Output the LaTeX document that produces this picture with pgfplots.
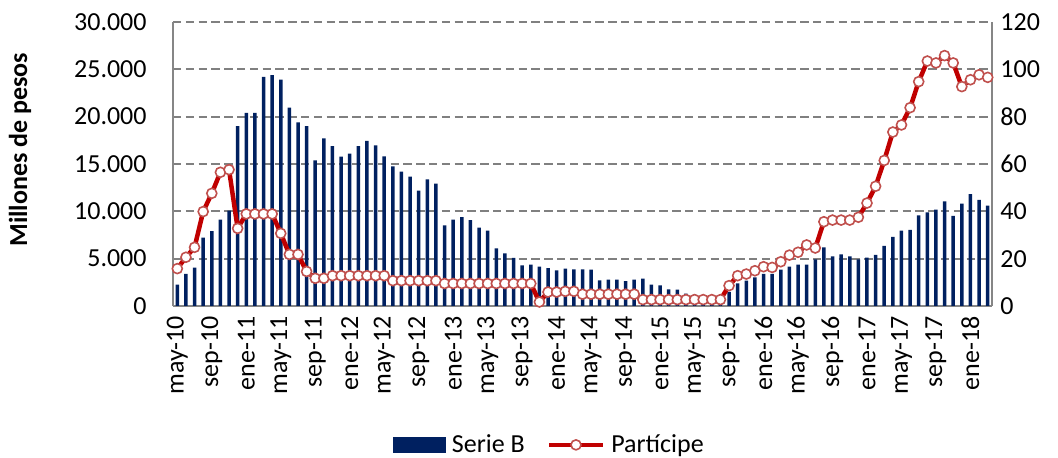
\documentclass[border=0pt]{standalone}
\usepackage{fontspec}
\setmainfont{Carlito}
\usepackage{pgfplots}
\usepackage{pgfplotstable}
\pgfplotsset{compat=1.18}
\definecolor{navy}{RGB}{0,32,96}
\definecolor{lred}{RGB}{192,0,0}
\definecolor{mred}{RGB}{192,80,77}
\definecolor{axgray}{RGB}{134,134,134}
\definecolor{gridgray}{RGB}{128,128,128}

\pgfplotstableread{
x b p
0 2250 15.8
1 3380 20.6
2 4050 24.8
3 7220 39.9
4 7920 47.6
5 9120 56.5
6 10070 57.6
7 19010 32.8
8 20390 38.9
9 20390 38.9
10 24190 38.9
11 24400 38.9
12 23910 30.7
13 20950 21.8
14 19400 21.8
15 19010 14.6
16 15390 11.7
17 17710 11.7
18 16900 12.8
19 15770 12.8
20 16090 12.8
21 16900 12.8
22 17430 12.8
23 16970 12.8
24 15810 12.8
25 14750 10.7
26 14190 10.7
27 13660 10.7
28 12180 10.7
29 13380 10.7
30 12920 10.7
31 8520 9.5
32 9120 9.5
33 9400 9.5
34 9080 9.5
35 8270 9.5
36 7960 9.5
37 6090 9.5
38 5560 9.5
39 5070 9.5
40 4300 9.5
41 4370 9.5
42 4150 1.7
43 4010 5.9
44 3770 5.9
45 3940 6.2
46 3870 6.2
47 3870 5.0
48 3840 5.0
49 2710 5.0
50 2780 5.0
51 2780 5.0
52 2640 5.0
53 2780 5.0
54 2890 2.7
55 2250 2.7
56 2180 2.7
57 1760 2.7
58 1730 2.7
59 1300 2.7
60 1200 2.7
61 1100 2.7
62 1000 2.7
63 1100 2.7
64 1500 8.6
65 2390 12.8
66 2680 13.5
67 3030 14.9
68 3380 16.6
69 3380 16.3
70 3840 18.7
71 4150 21.5
72 4370 22.7
73 4370 25.8
74 4930 24.5
75 6200 35.6
76 5250 36.3
77 5460 36.3
78 5250 36.3
79 4930 37.5
80 5110 43.5
81 5390 50.6
82 6340 61.5
83 7290 73.5
84 7960 76.5
85 8030 83.8
86 9580 94.8
87 9890 103.5
88 10180 102.7
89 11060 105.8
90 9510 102.7
91 10810 92.7
92 11830 95.6
93 11200 97.7
94 10600 96.6
}\datatable

\pgfplotsset{
  common/.style={
    at={(0,0)}, anchor=south west,
    scale only axis, width=409.5pt, height=142pt,
    xmin=-0.5, xmax=94.5, ymin=0,
    axis line style={draw=axgray, line width=0.8pt},
    major tick length=0pt,
    tick label style={font=\fontsize{13}{15.6}\selectfont},
    /pgf/number format/assume math mode=true,
    /pgf/number format/1000 sep={.},
  }
}

\begin{document}
\begin{tikzpicture}[font=\fontsize{13}{15.6}\selectfont]
\begin{axis}[
  common,
  ymax=30000,
  axis y line*=left, axis x line*=bottom,
  scaled y ticks=false,
  ytick={0,5000,...,30000},
  yticklabel style={anchor=east, inner sep=0pt, xshift=-13pt},
  xtick={0,4,...,92},
  xticklabels={may-10,sep-10,ene-11,may-11,sep-11,ene-12,may-12,sep-12,ene-13,may-13,sep-13,ene-14,may-14,sep-14,ene-15,may-15,sep-15,ene-16,may-16,sep-16,ene-17,may-17,sep-17,ene-18},
  xticklabel style={rotate=90, anchor=east, inner sep=0pt, inner xsep=5pt},
  ymajorgrids,
  grid style={draw=gridgray, line width=0.95pt, dash pattern=on 4.2pt off 2.2pt},
  ylabel={Millones de pesos},
  every axis y label/.style={at={(axis description cs:-0.1868,0.55)}, rotate=90, anchor=center, font=\bfseries\fontsize{13}{15.6}\selectfont},
]
\addplot[ybar, bar width=1.75pt, fill=navy, draw=none] table[x=x, y=b] {\datatable};
\end{axis}
\begin{axis}[
  common,
  ymax=120,
  axis y line*=right, axis x line=none,
  ytick={0,20,...,120},
  yticklabel style={anchor=west, inner sep=0pt, xshift=4pt},
  legend style={at={(0.462,-0.489)}, anchor=center, draw=none, fill=none,
    legend columns=2, font=\fontsize{13}{15.6}\selectfont,
    /tikz/every even column/.append style={column sep=8pt},
    nodes={inner xsep=3pt}},
]
\addlegendimage{legend image code/.code={\fill[navy] (0pt,-3.75pt) rectangle (26pt,3.75pt);}}
\addlegendentry{Serie B}
\addplot[draw=lred, line width=2.25pt, mark=*, mark size=2.5pt,
  mark options={fill=white, draw=mred, line width=0.8pt},
  legend image code/.code={\draw[mark repeat=2,mark phase=2] plot coordinates {(0pt,0pt) (13.5pt,0pt) (27pt,0pt)};}]
  table[x=x, y=p] {\datatable};
\addlegendentry{Partícipe}
\end{axis}
\pgfresetboundingbox
\useasboundingbox (-86.5pt,-76pt) rectangle (442.5pt,153pt);
\end{tikzpicture}
\end{document}
